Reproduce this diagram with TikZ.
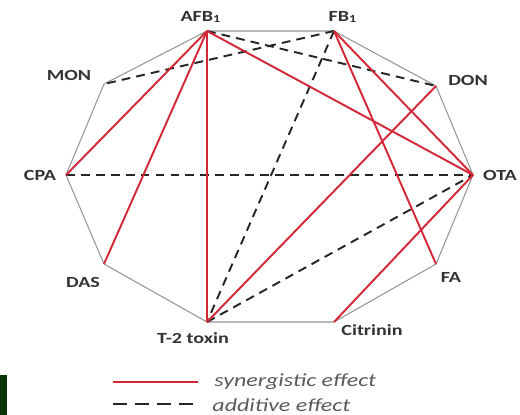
\documentclass[tikz,border=0pt]{standalone}
\usepackage{fontspec}
\setmainfont{Carlito}
\definecolor{synred}{RGB}{210,40,55}
\definecolor{rimgray}{RGB}{150,150,150}
\definecolor{legendgray}{RGB}{90,90,90}
\definecolor{darkbar}{RGB}{8,52,8}
\begin{document}
\begin{tikzpicture}[x=0.02cm,y=-0.02cm,
    rim/.style={rimgray, line width=0.6pt},
    synline/.style={synred, line width=1.1pt},
    addline/.style={black!85, line width=1.1pt, dash pattern=on 5pt off 3.5pt},
    lbl/.style={font=\fontsize{8.8}{10}\selectfont\bfseries, text=black!80, inner sep=0pt, xscale=1.3},
    legtext/.style={anchor=west, font=\fontsize{10.5}{12}\selectfont\itshape, text=legendgray, inner sep=0pt, xscale=1.3}]
    \useasboundingbox (0,0) rectangle (520,415);

    \coordinate (afb) at (207,31);
    \coordinate (fb) at (334,31);
    \coordinate (don) at (436,86);
    \coordinate (ota) at (473,175);
    \coordinate (fa) at (436,264);
    \coordinate (cit) at (334,322);
    \coordinate (tt) at (207,322);
    \coordinate (das) at (104,264);
    \coordinate (cpa) at (66,175);
    \coordinate (mon) at (104,84);

    \draw[rim] (afb) -- (fb) -- (don) -- (ota) -- (fa) -- (cit) -- (tt) -- (das) -- (cpa) -- (mon) -- cycle;

    \draw[addline] (afb) -- (don);
    \draw[addline] (fb) -- (mon);
    \draw[addline] (fb) -- (tt);
    \draw[addline] (cpa) -- (ota);
    \draw[addline] (tt) -- (ota);

    \draw[synline] (afb) -- (cpa);
    \draw[synline] (afb) -- (das);
    \draw[synline] (afb) -- (tt);
    \draw[synline] (afb) -- (ota);
    \draw[synline] (fb) -- (ota);
    \draw[synline] (fb) -- (fa);
    \draw[synline] (don) -- (tt);
    \draw[synline] (cit) -- (ota);

    \node[lbl] (afblbl) at (201,17) {AFB\textsubscript{1}};
    \node[lbl] (fblbl) at (343,17) {FB\textsubscript{1}};
    \node[lbl] (monlbl) at (69,75) {MON};
    \node[lbl] (donlbl) at (468,80) {DON};
    \node[lbl] (cpalbl) at (40,175) {CPA};
    \node[lbl] (otalbl) at (500,175) {OTA};
    \node[lbl] (daslbl) at (83,282) {DAS};
    \node[lbl] (falbl) at (451,277) {FA};
    \node[lbl] (ttlbl) at (193,338) {T-2 toxin};
    \node[lbl] (citlbl) at (372,330) {Citrinin};

    % legend
    \coordinate (syna) at (113,382);
    \coordinate (synb) at (198,382);
    \coordinate (adda) at (113,404);
    \coordinate (addb) at (198,404);
    \draw[synline] (syna) -- (synb);
    \draw[addline, dash pattern=on 8pt off 4.5pt] (adda) -- (addb);
    \node[legtext] (synlbl) at (214,382) {synergistic effect};
    \node[legtext] (addlbl) at (212,405) {additive effect};

    \fill[darkbar] (0,375) rectangle (7,415);
  \end{tikzpicture}
\end{document}
